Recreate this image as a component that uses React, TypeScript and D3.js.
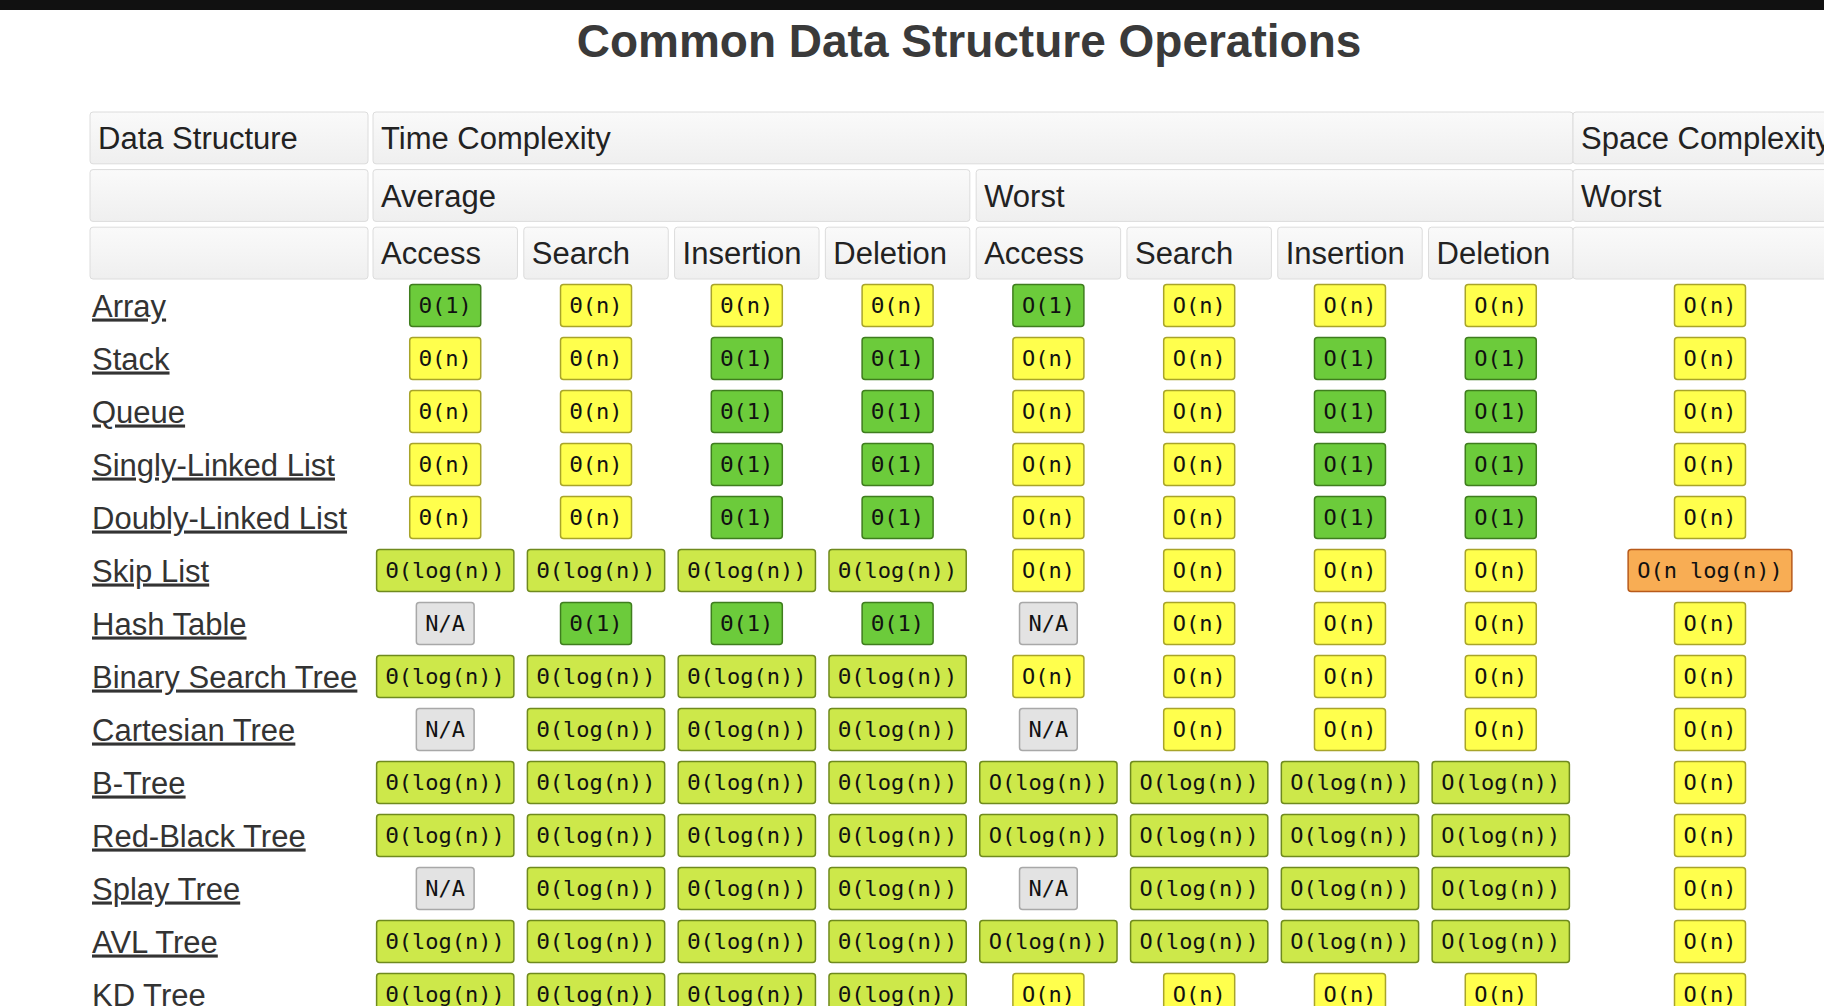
import { useEffect, useRef } from 'react';
import * as d3 from 'd3';

const TITLE = 'Common Data Structure Operations';
const OPS = ['Access', 'Search', 'Insertion', 'Deletion'];
const STRUCTURES = [
  'Array', 'Stack', 'Queue', 'Singly-Linked List', 'Doubly-Linked List', 'Skip List',
  'Hash Table', 'Binary Search Tree', 'Cartesian Tree', 'B-Tree', 'Red-Black Tree',
  'Splay Tree', 'AVL Tree', 'KD Tree',
];
// average (Θ) then worst (O) then space — stored as the part inside the brackets
const AVERAGE = [
  ['1', 'n', 'n', 'n'],
  ['n', 'n', '1', '1'],
  ['n', 'n', '1', '1'],
  ['n', 'n', '1', '1'],
  ['n', 'n', '1', '1'],
  ['log(n)', 'log(n)', 'log(n)', 'log(n)'],
  ['N/A', '1', '1', '1'],
  ['log(n)', 'log(n)', 'log(n)', 'log(n)'],
  ['N/A', 'log(n)', 'log(n)', 'log(n)'],
  ['log(n)', 'log(n)', 'log(n)', 'log(n)'],
  ['log(n)', 'log(n)', 'log(n)', 'log(n)'],
  ['N/A', 'log(n)', 'log(n)', 'log(n)'],
  ['log(n)', 'log(n)', 'log(n)', 'log(n)'],
  ['log(n)', 'log(n)', 'log(n)', 'log(n)'],
];
const WORST = [
  ['1', 'n', 'n', 'n'],
  ['n', 'n', '1', '1'],
  ['n', 'n', '1', '1'],
  ['n', 'n', '1', '1'],
  ['n', 'n', '1', '1'],
  ['n', 'n', 'n', 'n'],
  ['N/A', 'n', 'n', 'n'],
  ['n', 'n', 'n', 'n'],
  ['N/A', 'n', 'n', 'n'],
  ['log(n)', 'log(n)', 'log(n)', 'log(n)'],
  ['log(n)', 'log(n)', 'log(n)', 'log(n)'],
  ['N/A', 'log(n)', 'log(n)', 'log(n)'],
  ['log(n)', 'log(n)', 'log(n)', 'log(n)'],
  ['n', 'n', 'n', 'n'],
];
const SPACE = ['n', 'n', 'n', 'n', 'n', 'n log(n)', 'n', 'n', 'n', 'n', 'n', 'n', 'n', 'n'];

const COLORS: Record<string, [string, string]> = {
  '1': ['#6ccb3b', '#3f7d1e'],
  'log(n)': ['#cde84a', '#6f8a1e'],
  n: ['#ffff4d', '#a8a42a'],
  'n log(n)': ['#f8ad54', '#b85a1a'],
  'N/A': ['#e3e3e3', '#a8a8a8'],
};

const W = 1824;
const H = 1006;
const SANS = '"Liberation Sans", Arial, sans-serif';
const MONO = '"DejaVu Sans Mono", monospace';

export default function App() {
  const ref = useRef<SVGSVGElement>(null);

  useEffect(() => {
    const svg = d3.select(ref.current);
    svg.selectAll('*').remove();

    svg.append('rect').attr('width', W).attr('height', H).attr('fill', '#fff');
    svg.append('rect').attr('width', W).attr('height', 10).attr('fill', '#111');

    svg.append('text').attr('x', 969).attr('y', 57).attr('text-anchor', 'middle')
      .attr('font-family', SANS).attr('font-weight', 'bold').attr('font-size', 46)
      .attr('fill', '#3a3a3a').text(TITLE);

    const defs = svg.append('defs');
    const grad = defs.append('linearGradient').attr('id', 'hdr').attr('x1', 0).attr('x2', 0).attr('y1', 0).attr('y2', 1);
    grad.append('stop').attr('offset', 0).attr('stop-color', '#fafafa');
    grad.append('stop').attr('offset', 1).attr('stop-color', '#efefef');

    const x = d3.scaleBand<number>().domain(d3.range(8)).range([373, 1573]).paddingInner(0.042).paddingOuter(0);
    const gap = x.step() - x.bandwidth();
    const dsX0 = 90, dsX1 = 368;
    const spX0 = 1573, spX1 = 1850;

    const hdrRows = d3.scaleBand<number>().domain([0, 1, 2]).range([112, 279]).paddingInner(0.1);

    const header = (x0: number, x1: number, r: number, label: string) => {
      const y0 = hdrRows(r)!;
      svg.append('rect').attr('x', x0).attr('y', y0).attr('width', x1 - x0).attr('height', hdrRows.bandwidth())
        .attr('rx', 3).attr('fill', 'url(#hdr)').attr('stroke', '#dcdcdc');
      if (label) svg.append('text').attr('x', x0 + 8).attr('y', y0 + hdrRows.bandwidth() / 2 + 11)
        .attr('font-family', SANS).attr('font-size', 31).attr('fill', '#222').text(label);
    };
    const colEnd = (i: number) => x(i)! + x.bandwidth();

    header(dsX0, dsX1, 0, 'Data Structure');
    header(x(0)!, colEnd(7), 0, 'Time Complexity');
    header(spX0, spX1, 0, 'Space Complexity');
    header(dsX0, dsX1, 1, '');
    header(x(0)!, colEnd(3), 1, 'Average');
    header(x(4)!, colEnd(7), 1, 'Worst');
    header(spX0, spX1, 1, 'Worst');
    header(dsX0, dsX1, 2, '');
    d3.range(8).forEach((i) => header(x(i)!, colEnd(i), 2, OPS[i % 4]));
    header(spX0, spX1, 2, '');

    const y = d3.scaleBand<string>().domain(STRUCTURES).range([279, 279 + 53 * STRUCTURES.length]);

    const badge = (cx: number, name: string, val: string, sym: string) => {
      const label = val === 'N/A' ? 'N/A' : `${sym}(${val})`;
      const [fill, stroke] = COLORS[val];
      const bw = label.length * 13.25 + 18;
      const bh = 42;
      const cy = y(name)! + y.bandwidth() / 2;
      svg.append('rect').attr('x', cx - bw / 2).attr('y', cy - bh / 2).attr('width', bw).attr('height', bh)
        .attr('rx', 3).attr('fill', fill).attr('stroke', stroke).attr('stroke-width', 1.5);
      svg.append('text').attr('x', cx).attr('y', cy + 7).attr('text-anchor', 'middle')
        .attr('font-family', MONO).attr('font-size', 22).attr('fill', '#111').text(label);
    };

    STRUCTURES.forEach((name, r) => {
      svg.append('text').attr('x', dsX0 + 2).attr('y', y(name)! + y.bandwidth() / 2 + 11)
        .attr('font-family', SANS).attr('font-size', 31).attr('fill', '#333')
        .attr('text-decoration', 'underline').text(name);
      AVERAGE[r].forEach((v, i) => badge(x(i)! + x.bandwidth() / 2, name, v, 'Θ'));
      WORST[r].forEach((v, i) => badge(x(i + 4)! + x.bandwidth() / 2, name, v, 'O'));
      badge((spX0 + 1847) / 2 - 0, name, SPACE[r], 'O');
    });
    void gap;
  }, []);

  return (
    <svg ref={ref} width={W} height={H}
      style={{ position: 'fixed', left: 0, top: 0, display: 'block' }} />
  );
}
